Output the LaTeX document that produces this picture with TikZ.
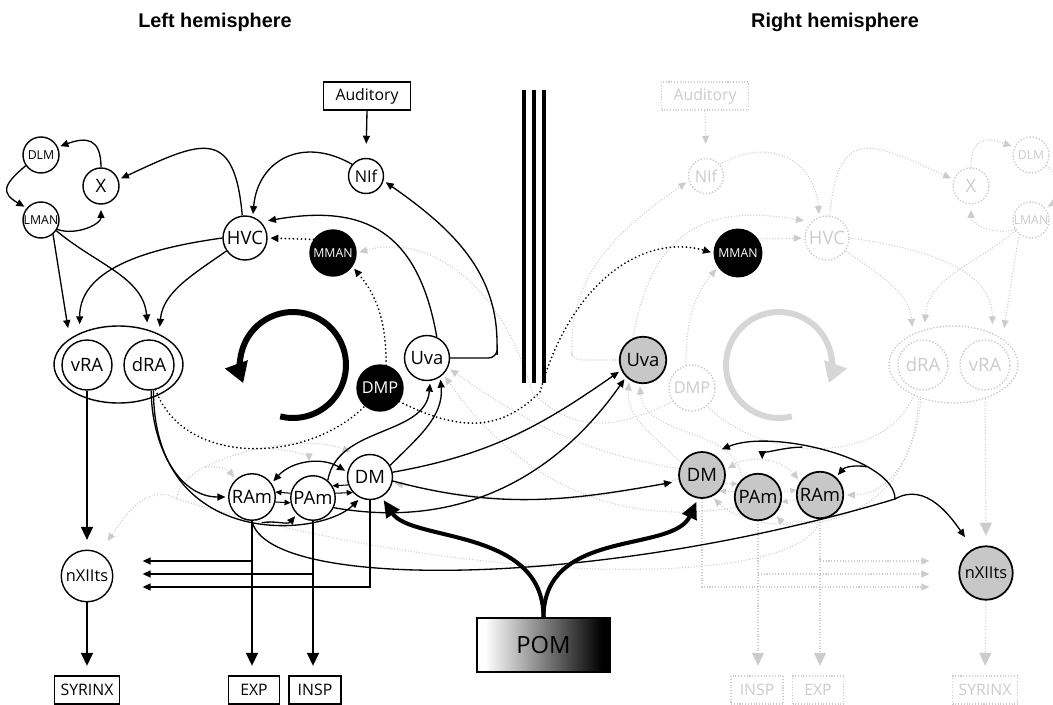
\documentclass[tikz,border=0pt]{standalone}
\usepackage{fontspec}
\setmainfont{Open Sans}
\newfontfamily\headfont{Liberation Sans}
\usepackage{xcolor}
\definecolor{cFaint}{gray}{0.8}
\definecolor{cHit}{gray}{0.78}
\usetikzlibrary{arrows.meta,shapes.geometric,backgrounds}
\pgfdeclarehorizontalshading{pomfade}{100bp}{color(0bp)=(white); color(28bp)=(white); color(72bp)=(black); color(100bp)=(black)}
\newcommand{\fLab}{\fontsize{10.5}{12}\selectfont}
\newcommand{\fMid}{\fontsize{9.3}{11}\selectfont}
\newcommand{\fTiny}{\fontsize{7}{8}\selectfont}
\newcommand{\fBox}{\fontsize{9}{10}\selectfont}
\newcommand{\fPom}{\fontsize{13.5}{15}\selectfont}
\newcommand{\fHead}{\headfont\bfseries\fontsize{11.3}{13}\selectfont}
\tikzset{
  node-nuc/.style={draw,circle,line width=0.8pt,fill=white,inner sep=0pt,font=\fLab},
  node-dark/.style={node-nuc,fill=black,text=white,font=\fTiny},
  node-hit/.style={node-nuc,fill=cHit,line width=1pt},
  node-ell/.style={draw,ellipse,line width=0.8pt,fill=white,inner sep=0pt,
    minimum width=25.8mm,minimum height=15.4mm},
  node-box/.style={draw,rectangle,line width=0.6pt,fill=white,inner sep=0pt,
    minimum height=5.6mm,font=\fBox},
  node-faint/.style={draw=cFaint,densely dotted,text=cFaint},
  arrow/.style={-{Triangle[length=1.6mm,width=1.4mm]},line width=0.75pt,shorten >=1.5pt},
  arrow-both/.style={arrow,{Triangle[length=1.6mm,width=1.4mm]}-{Triangle[length=1.6mm,width=1.4mm]},shorten <=1.5pt},
  arrow-sm/.style={-{Triangle[length=1.2mm,width=1.1mm]},line width=0.6pt},
  arrow-big/.style={-{Triangle[length=2.6mm,width=2.4mm]},line width=0.9pt,shorten >=5.5pt},
  arrow-dot/.style={arrow,line width=1.1pt,dash pattern=on 0pt off 2.3pt,line cap=round},
  line-dot/.style={line width=1.1pt,dash pattern=on 0pt off 2.3pt,line cap=round},
  arrow-pom/.style={-{Triangle[length=3.4mm,width=3mm]},line width=2.3pt,shorten >=2pt},
  arrow-turn/.style={-{Triangle[length=4mm,width=4.6mm]},line width=3.4pt},
  line-faint/.style={draw=cFaint,line width=0.6pt,densely dotted},
  arrow-faint/.style={arrow,line-faint},
}
\begin{document}
\begin{tikzpicture}[x=0.02cm,y=0.02cm]
  \useasboundingbox (0,0) rectangle (1053,704);
  \node[font=\fHead] (tL) at (215,682) {Left hemisphere};
  \node[font=\fHead] (tR) at (835,682) {Right hemisphere};

  % left hemisphere
  \node[node-nuc,minimum size=7.2mm,font=\fTiny] (DLM)  at (41,549)  {DLM};
  \node[node-nuc,minimum size=7.2mm]             (X)    at (101,518) {X};
  \node[node-nuc,minimum size=7.2mm,font=\fTiny] (LMAN) at (41,484)  {LMAN};
  \node[node-nuc,minimum size=8.8mm]             (HVC)  at (245,466) {HVC};
  \node[node-nuc,minimum size=7mm,font=\fMid]    (NIf)  at (366,528) {NIf};
  \node[node-box,minimum width=17.4mm]           (Aud)  at (367,608) {Auditory};
  \node[node-dark,minimum size=9.2mm]            (MMAN) at (333,451) {MMAN};
  \node[node-ell]                                (RA)   at (118.5,339.5) {};
  \node[node-nuc,minimum size=10mm]              (vRA)  at (87,339)  {vRA};
  \node[node-nuc,minimum size=10mm]              (dRA)  at (149,339) {dRA};
  \node[node-dark,minimum size=9.2mm,font=\fMid] (DMP)  at (380,316) {DMP};
  \node[node-nuc,minimum size=9mm]               (Uva)  at (427,346) {Uva};
  \node[node-nuc,minimum size=9.3mm]             (RAm)  at (252,207) {RAm};
  \node[node-nuc,minimum size=8.9mm]             (PAm)  at (313,206) {PAm};
  \node[node-nuc,minimum size=9mm]               (DM)   at (370,227) {DM};
  \node[node-nuc,minimum size=10.3mm,font=\fMid] (nX)   at (87,128)  {nXIIts};
  \node[node-box,minimum width=13mm]             (SYR)  at (87,14)   {SYRINX};
  \node[node-box,minimum width=10.2mm]           (EXP)  at (254,14)  {EXP};
  \node[node-box,minimum width=10.4mm]           (INSP) at (315,14)  {INSP};
  \coordinate (tipA) at (140,143);
  \coordinate (tipB) at (140,130);
  \coordinate (tipC) at (140,117);

  % right hemisphere, faded copy
  \node[node-box,node-faint,minimum width=17.4mm]           (fAud)  at (705,608) {Auditory};
  \node[node-nuc,node-faint,minimum size=7mm,font=\fMid]    (fNIf)  at (706,528) {NIf};
  \node[node-nuc,node-faint,minimum size=8.8mm]             (fHVC)  at (827,466) {HVC};
  \node[node-nuc,node-faint,minimum size=7.2mm]             (fX)    at (971,518) {X};
  \node[node-nuc,node-faint,minimum size=7.2mm,font=\fTiny] (fDLM)  at (1031,549) {DLM};
  \node[node-nuc,node-faint,minimum size=7.2mm,font=\fTiny] (fLMAN) at (1031,484) {LMAN};
  \node[node-ell,node-faint]                                (fRA)   at (953.5,339.5) {};
  \node[node-nuc,node-faint,minimum size=10mm]              (fdRA)  at (923,339) {dRA};
  \node[node-nuc,node-faint,minimum size=10mm]              (fvRA)  at (985,339) {vRA};
  \node[node-nuc,node-faint,minimum size=9.2mm,font=\fMid]  (fDMP)  at (692,316) {DMP};
  \node[node-box,node-faint,minimum width=13mm]             (fSYR)  at (985,14)  {SYRINX};
  \node[node-box,node-faint,minimum width=10.2mm]           (fEXP)  at (818,14)  {EXP};
  \node[node-box,node-faint,minimum width=10.4mm]           (fINSP) at (757,14)  {INSP};
  \coordinate (ftipA) at (932,143);
  \coordinate (ftipB) at (932,130);
  \coordinate (ftipC) at (932,117);

  % right hemisphere, active nuclei
  \node[node-dark,minimum size=9.5mm]            (rMMAN) at (738,451) {MMAN};
  \node[node-hit,minimum size=9.3mm]             (rUva)  at (643,344) {Uva};
  \node[node-hit,minimum size=9.2mm]             (rDM)   at (702,229) {DM};
  \node[node-hit,minimum size=9.3mm]             (rPAm)  at (758,207) {PAm};
  \node[node-hit,minimum size=9.3mm]             (rRAm)  at (820,209) {RAm};
  \node[node-hit,minimum size=10.7mm,font=\fMid] (rnX)   at (986,131) {nXIIts};

  \node[draw,line width=0.6pt,shade,shading=pomfade,inner sep=0pt,minimum width=26.6mm,
    minimum height=10.8mm,font=\fPom] (POM) at (543.5,59) {POM};
  \coordinate (turnR) at (895,205);
  \coordinate (dipR)  at (540,312);
  \coordinate (turnL) at (177,205);
  \coordinate (dipL)  at (532,312);

  \foreach \bx in {524,534,544}
    \draw[line width=2.3pt] (\bx,321) -- (\bx,614);

  \begin{pgfonlayer}{background}
    \draw[arrow-turn,cFaint!80] (779,339) ++(284:53) arc[start angle=284,end angle=-20,radius=53];
    \draw[arrow-faint,shorten >=8pt] (fAud.south) -- (fNIf.north);
    \draw[arrow-faint] (fNIf.40) to[out=30,in=95,looseness=1.3] (fHVC.110);
    \draw[arrow-faint] (fHVC.83) to[out=85,in=155,looseness=1.8] (fX.160);
    \draw[arrow-faint] (fX.north) to[out=90,in=160,looseness=1.6] (fDLM.155);
    \draw[arrow-faint] (fDLM.-35) to[out=-40,in=30,looseness=1.8] (fLMAN.40);
    \draw[arrow-faint,shorten >=3pt] (fLMAN.210) to[out=200,in=-90] (fX.south);
    \draw[arrow-faint,shorten >=6pt] (fLMAN.230) -- (fRA.28);
    \draw[arrow-faint,shorten >=4pt] (fLMAN.215) to[out=220,in=85] (fRA.130);
    \draw[arrow-faint,shorten >=5pt] (fHVC.east) to[out=-8,in=90] (fRA.39);
    \draw[arrow-faint,shorten >=4pt] (fHVC.-35) to[out=-35,in=95] (fRA.143);
    \draw[arrow-faint,shorten >=4pt] (rUva.115) to[out=80,in=170,looseness=1.3] (fHVC.135);
    \draw[arrow-faint,rounded corners=5pt] (rUva.west) -- ++(-47,0) -- ++(0,12) to[out=88,in=215] (fNIf.195);
    \draw[arrow-faint] (rMMAN.35) -- (fHVC.west);
    \draw[arrow-faint] (fDMP.105) to[out=90,in=230] (rMMAN.215);
    \draw[line-faint] (fdRA.-105) to[out=250,in=-45] (fDMP.-50);
    \draw[arrow-faint] (rDM.150) to[out=135,in=-95] (rUva.-125);
    \draw[arrow-faint] (rPAm.130) to[out=100,in=-85] (rUva.-98);
    \draw[arrow-both,line-faint] (rRAm.145) to[bend right=40] (rDM.12);
    \draw[arrow-sm,line-faint] (rPAm.12) -- (rRAm.168);
    \draw[arrow-sm,line-faint] (rRAm.-168) -- (rPAm.-12);
    \draw[arrow-sm,line-faint] (rDM.-20) -- (rPAm.148);
    \draw[arrow-sm,line-faint] (rPAm.168) -- (rDM.-42);
    \draw[arrow-faint] (fdRA.-95) to[out=-90,in=0] (rRAm.east);
    \draw[arrow-faint] (fdRA.-100) .. controls +(0,-160) and +(40,-40) .. (rDM.-65) coordinate[pos=0.57] (fbrP);
    \draw[arrow-faint] (fbrP) to[out=170,in=-50] (rPAm.-45);
    \draw[arrow-big,line-faint] (fvRA.south) -- (rnX.north);
    \draw[arrow-big,line-faint] (rnX.south) -- (fSYR.north);
    \draw[arrow-big,line-faint] (rRAm.south) -- (rRAm.south |- fEXP.north);
    \draw[arrow-big,line-faint] (rPAm.south) -- (rPAm.south |- fINSP.north);
    \draw[arrow-faint] (rRAm.south |- ftipA) -- (ftipA);
    \draw[arrow-faint] (rPAm.south |- ftipB) -- (ftipB);
    \draw[arrow-faint] (rDM.south) |- (ftipC);
    % faded projections from the right side
    \draw[arrow-faint] (rDM.165) to[out=170,in=-35] (Uva.-25);
    \draw[arrow-faint] (rPAm.205) to[out=190,in=-55] (Uva.-45);
    \draw[arrow-faint] (rDM.190) to[out=195,in=-10] (DM.-15);
    \draw[arrow-faint] (fDMP.215) .. controls +(-60,-30) and +(40,-40) .. (dipL) .. controls +(-30,110) and +(70,20) .. (MMAN.east);
    \draw[arrow-faint,shorten >=6pt] (rRAm.-90) .. controls +(-15,-70) and +(300,-90) .. (turnL) .. controls +(0,40) and +(-60,25) .. (DM.115) coordinate[pos=0.3] (fbrR) coordinate[pos=0.6] (fbrQ);
    \draw[arrow-faint] (fbrR) to[out=10,in=130] (RAm.132);
    \draw[arrow-faint,shorten >=8pt] (fbrQ) to[out=0,in=90] (PAm.100);
    \draw[arrow-faint,shorten >=8pt] (turnL) to[out=150,in=55] (nX.62);
  \end{pgfonlayer}

  \draw[arrow-turn] (293,339) ++(-104:53) arc[start angle=-104,end angle=200,radius=53];

  \draw[arrow,shorten >=8pt] (Aud.south) -- (NIf.north);
  \draw[arrow] (NIf.140) to[out=150,in=85,looseness=1.3] (HVC.70);
  \draw[arrow] (HVC.97) to[out=95,in=25,looseness=1.8] (X.20);
  \draw[arrow] (X.north) to[out=90,in=20,looseness=1.6] (DLM.25);
  \draw[arrow] (DLM.215) to[out=220,in=150,looseness=1.8] (LMAN.140);
  \draw[arrow,shorten >=3pt] (LMAN.-30) to[out=-20,in=-90] (X.south);
  \draw[arrow,shorten >=6pt] (LMAN.-50) -- (RA.152);
  \draw[arrow,shorten >=4pt] (LMAN.-35) to[out=-40,in=95] (RA.50);
  \draw[arrow,shorten >=5pt] (HVC.west) to[out=188,in=90] (RA.141);
  \draw[arrow,shorten >=4pt] (HVC.215) to[out=215,in=85] (RA.37);
  \draw[arrow,shorten >=4pt] (Uva.65) to[out=100,in=10,looseness=1.3] (HVC.45);
  \draw[arrow,rounded corners=5pt] (Uva.east) -- ++(47,0) -- ++(0,12) to[out=92,in=-35] (NIf.-15);
  \draw[arrow-dot] (MMAN.145) -- (HVC.east);
  \draw[arrow-dot] (DMP.75) to[out=90,in=-50] (MMAN.-35);
  \draw[line-dot] (dRA.-75) to[out=-70,in=225] (DMP.230);
  \draw[arrow-dot] (DMP.-35) .. controls +(60,-30) and +(-40,-40) .. (dipR) .. controls +(30,110) and +(-70,20) .. (rMMAN.west);
  \draw[arrow] (DM.30) to[out=45,in=-85] (Uva.-55);
  \draw[arrow] (PAm.50) to[out=80,in=-95] (Uva.-82);
  \draw[arrow-both] (RAm.35) to[bend left=40] (DM.168);
  \draw[arrow-sm] (PAm.168) -- (RAm.12);
  \draw[arrow-sm] (RAm.-12) -- (PAm.-168);
  \draw[arrow-sm] (DM.200) -- (PAm.32);
  \draw[arrow-sm] (PAm.12) -- (DM.222);
  \draw[arrow] (dRA.-85) to[out=-90,in=180] (RAm.west);
  \draw[arrow] (dRA.-80) .. controls +(0,-160) and +(-40,-40) .. (DM.245) coordinate[pos=0.57] (brPAm);
  \draw[arrow] (brPAm) to[out=10,in=-130] (PAm.225);
  \draw[arrow-big] (vRA.south) -- (nX.north);
  \draw[arrow-big] (nX.south) -- (SYR.north);
  \draw[arrow-big] (RAm.south) -- (RAm.south |- EXP.north);
  \draw[arrow-big] (PAm.south) -- (PAm.south |- INSP.north);
  \draw[arrow] (RAm.south |- tipA) -- (tipA);
  \draw[arrow] (PAm.south |- tipB) -- (tipB);
  \draw[arrow] (DM.south) |- (tipC);

  % projections to the right side
  \draw[arrow] (DM.12) to[out=10,in=215] (rUva.205);
  \draw[arrow] (PAm.-25) to[out=-10,in=235] (rUva.225);
  \draw[arrow,shorten >=4pt] (DM.-10) to[out=-15,in=190] (rDM.195);
  \draw[arrow,shorten >=6pt] (RAm.-90) .. controls +(15,-70) and +(-300,-90) .. (turnR) .. controls +(0,40) and +(60,25) .. (rDM.65) coordinate[pos=0.3] (brR) coordinate[pos=0.6] (brP);
  \draw[arrow] (brR) to[out=170,in=50] (rRAm.48);
  \draw[arrow,shorten >=8pt] (brP) to[out=180,in=90] (rPAm.80);
  \draw[arrow,shorten >=8pt] (turnR) to[out=30,in=125] (rnX.118);

  \draw[arrow-pom] (POM.north) .. controls +(0,90) and +(30,-45) .. (DM.-60);
  \draw[arrow-pom] (POM.north) .. controls +(0,90) and +(-25,-55) .. (rDM.-100);
\end{tikzpicture}
\end{document}
